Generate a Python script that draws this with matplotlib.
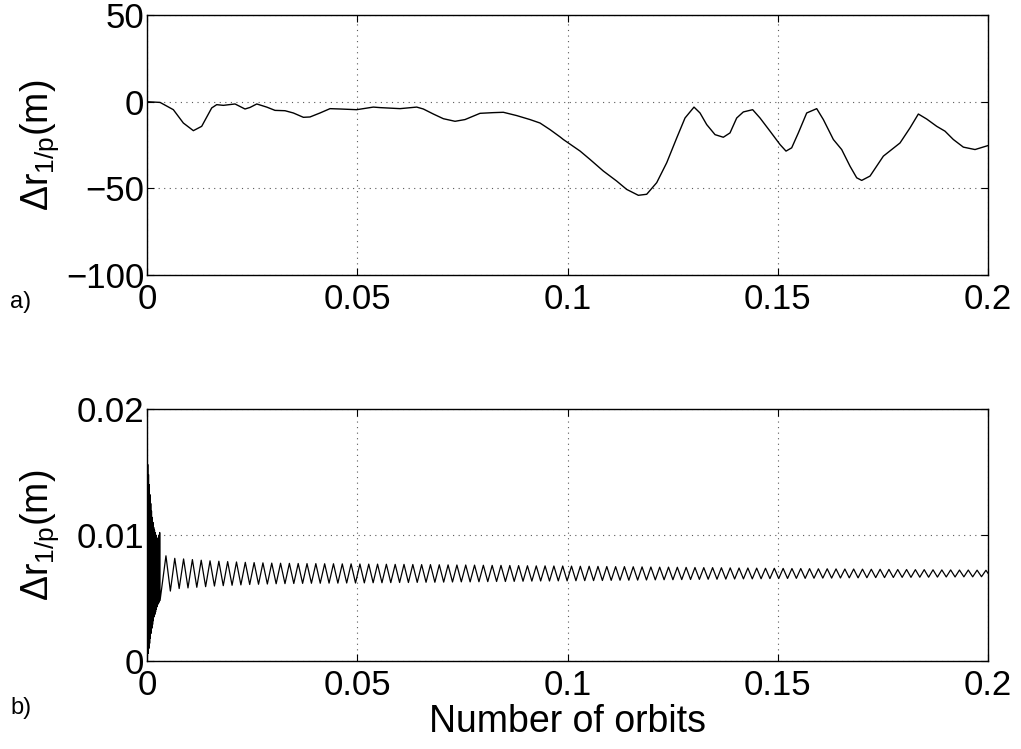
import numpy as np
import matplotlib
matplotlib.use("Agg")
from matplotlib import pyplot as plt

plt.rcParams['font.family'] = ['Liberation Sans', 'DejaVu Sans']
plt.rcParams['mathtext.fontset'] = 'custom'
plt.rcParams['mathtext.rm'] = 'Liberation Sans'
plt.rcParams['mathtext.it'] = 'Liberation Sans'

# panel a)
orbits_a = [0, 0.0031, 0.00626, 0.00864, 0.01102, 0.0130, 0.01538, 0.01657, 0.01815,
            0.02093, 0.0233, 0.0245, 0.0261, 0.02846, 0.03044, 0.03282, 0.0348,
            0.03718, 0.03876, 0.04114, 0.04352, 0.0459, 0.04986, 0.05382, 0.05541,
            0.06017, 0.06413, 0.06571, 0.06809, 0.07047, 0.07325, 0.07562, 0.07919,
            0.08236, 0.08474, 0.08791, 0.09108, 0.09346, 0.09584, 0.09822, 0.099,
            0.1030, 0.10535, 0.10852, 0.1117, 0.11407, 0.11684, 0.11883, 0.12121,
            0.12359, 0.12597, 0.12794, 0.13008, 0.13151, 0.1331, 0.13508, 0.13705,
            0.13864, 0.14023, 0.14181, 0.14403, 0.14578, 0.14816, 0.15053, 0.15196,
            0.15331, 0.15489, 0.15688, 0.15926, 0.16084, 0.16322, 0.1652, 0.16718,
            0.16877, 0.16996, 0.17194, 0.17511, 0.17907, 0.18145, 0.18343, 0.18542,
            0.1878, 0.18977, 0.19175, 0.19413, 0.19691, 0.2]
dr_a = [0, -0.4, -4.6, -12.3, -16.7, -14.2, -3.6, -1.7, -2.1,
        -1.3, -4.2, -3.3, -1.3, -3.1, -5.0, -5.2, -6.5,
        -9.0, -8.8, -6.5, -4.0, -4.2, -4.6, -3.1, -3.4,
        -4.0, -3.1, -4.2, -7.1, -9.8, -11.3, -10.3, -6.7,
        -6.3, -6.1, -8.0, -10.3, -12.3, -16.1, -20.3, -21.8,
        -28.5, -33.3, -40.0, -45.8, -50.6, -54.0, -53.4, -46.7,
        -35.2, -20.9, -9.4, -3.1, -6.5, -13.2, -19.0, -20.5,
        -18.0, -9.4, -5.9, -4.6, -9.4, -17.0, -24.7, -28.5,
        -26.6, -18.0, -6.5, -4.0, -10.3, -21.8, -27.6, -37.2,
        -43.9, -45.4, -42.9, -31.4, -23.8, -15.1, -7.1, -10.0,
        -14.2, -17.0, -21.8, -26.2, -27.6, -25.3]

# panel b) - start-up transient, successive maxima / minima
trans_hi = [0.0150, 0.0156, 0.0148, 0.0140, 0.0132, 0.0125, 0.0119, 0.0114, 0.0110,
            0.0106, 0.0104, 0.0102, 0.0100, 0.0098, 0.0097, 0.0096, 0.0100, 0.0102]
trans_lo = [0.0003, 0.0006, 0.0010, 0.0014, 0.0018, 0.0022, 0.0026, 0.0029, 0.0032,
            0.0035, 0.0037, 0.0039, 0.0041, 0.0043, 0.0045, 0.0046, 0.0047, 0.0048]
trans_end = 0.0031

# panel b) - steady oscillation: mean level and half amplitude of each cycle
osc_mean = 0.00695
osc_amp = [0.0014, 0.0012,
           0.00115, 0.0011, 0.00105, 0.001, 0.00097, 0.00094, 0.00091, 0.00088, 0.00086, 0.00084,
           0.00082, 0.00081, 0.0008, 0.00079, 0.00078, 0.00078, 0.00077, 0.00077, 0.00076, 0.00076,
           0.00075, 0.00074, 0.00074, 0.00073, 0.00072, 0.00072, 0.00071, 0.0007, 0.0007, 0.00069,
           0.00068, 0.00067, 0.00067, 0.00066, 0.00065, 0.00064, 0.00064, 0.00063, 0.00062, 0.00061,
           0.0006, 0.0006, 0.00059, 0.00059, 0.00058, 0.00057, 0.00057, 0.00056, 0.00055, 0.00054,
           0.00054, 0.00053, 0.00052, 0.00051, 0.0005, 0.0005, 0.00049, 0.00048, 0.00047, 0.00046,
           0.00046, 0.00045, 0.00044, 0.00043, 0.00043, 0.00042, 0.00041, 0.00041, 0.0004, 0.00039,
           0.00039, 0.00038, 0.00037, 0.00037, 0.00036, 0.00035, 0.00035, 0.00034, 0.00033, 0.00033,
           0.00032, 0.00031, 0.00031, 0.0003, 0.0003, 0.00029, 0.00028, 0.00028, 0.00027, 0.00027,
           0.00026, 0.00025]
osc_start = 0.0045
osc_stop = 0.1995

xticks = [0, 0.05, 0.1, 0.15, 0.2]
xticklabels = ['0', '0.05', '0.1', '0.15', '0.2']
yticks_a = [-100, -50, 0, 50]
yticklabels_a = ['\u2212100', '\u221250', '0', '50']
yticks_b = [0, 0.01, 0.02]
yticklabels_b = ['0', '0.01', '0.02']

# assemble panel b series
n_tr = len(trans_hi)
t_tr = np.linspace(0, trans_end, 2 * n_tr)
v_tr = np.empty(2 * n_tr)
v_tr[0::2] = trans_hi
v_tr[1::2] = trans_lo

amp = np.array(osc_amp)
t_pk = np.linspace(osc_start, osc_stop, len(amp))
half = (t_pk[1] - t_pk[0]) / 2
t_osc = np.empty(2 * len(amp))
t_osc[0::2] = t_pk
t_osc[1::2] = t_pk + half
v_osc = np.empty(2 * len(amp))
v_osc[0::2] = osc_mean + amp
v_osc[1::2] = osc_mean - amp

orbits_b = np.concatenate([t_tr, t_osc])
dr_b = np.concatenate([v_tr, v_osc])

fig = plt.figure(figsize=(10.21, 7.49), dpi=100)
ax1 = fig.add_axes([0.144, 0.6328, 0.8237, 0.3471])
ax2 = fig.add_axes([0.144, 0.1175, 0.8237, 0.3364])

ylabel = r'$\Delta$r$_{\mathregular{1/p}}$(m)'

for ax in (ax1, ax2):
    ax.set_xlim(0, 0.2)
    ax.set_xticks(xticks)
    ax.set_xticklabels(xticklabels)
    ax.tick_params(direction='in', length=5, width=0.8, top=True, right=True,
                   labelsize=25, pad=6)
    ax.tick_params(axis='y', pad=2)
    ax.grid(True, color='0.35', linestyle=(0, (1, 4)), linewidth=0.8)
    for s in ax.spines.values():
        s.set_linewidth(1.0)
    ax.set_ylabel(ylabel, fontsize=27)
    ax.yaxis.set_label_coords(-0.102, 0.5)

ax1.plot(orbits_a, dr_a, color='k', linewidth=1.0)
ax1.set_ylim(-100, 50)
ax1.set_yticks(yticks_a)
ax1.set_yticklabels(yticklabels_a)

ax2.plot(orbits_b, dr_b, color='k', linewidth=0.9)
ax2.set_ylim(0, 0.02)
ax2.set_yticks(yticks_b)
ax2.set_yticklabels(yticklabels_b)
ax2.set_xlabel('Number of orbits', fontsize=27, labelpad=1)

fig.text(0.01, 0.597, 'a)', fontsize=17, va='center')
fig.text(0.01, 0.055, 'b)', fontsize=17, va='center')

fig.savefig('out.png', dpi=100)
